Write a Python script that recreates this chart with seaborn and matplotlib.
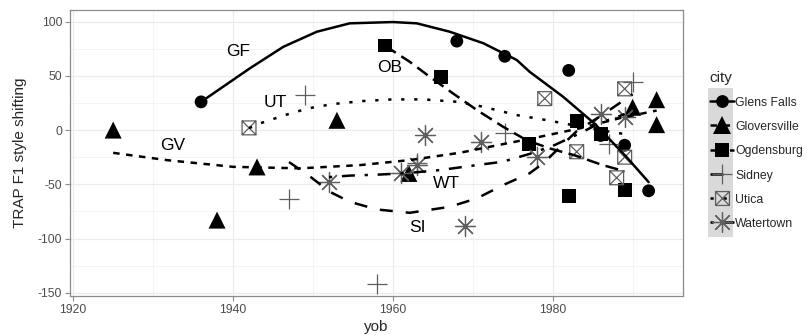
import numpy as np
import pandas as pd
import seaborn as sns
import matplotlib
matplotlib.use("Agg")
import matplotlib.pyplot as plt
from matplotlib.path import Path
from matplotlib.lines import Line2D
from matplotlib.patches import Rectangle

# ---------------- data ----------------
cities = ["Glens Falls", "Gloversville", "Ogdensburg", "Sidney", "Utica", "Watertown"]
abbrevs = ["GF", "GV", "OB", "SI", "UT", "WT"]

# observed points
gf_yob = [1936, 1968, 1974, 1982, 1986, 1989, 1992]
gf_val = [26, 82, 68, 55, -5, -14, -56]

gv_yob = [1925, 1938, 1943, 1953, 1962, 1990, 1993, 1993]
gv_val = [0, -83, -34, 9, -40, 21, 28, 5]

ob_yob = [1959, 1966, 1977, 1982, 1983, 1986, 1989]
ob_val = [78, 49, -13, -61, 8, -4, -55]

si_yob = [1947, 1949, 1958, 1963, 1974, 1987, 1990]
si_val = [-64, 32, -142, -30, -3, -13, 44]

ut_yob = [1942, 1979, 1983, 1988, 1989, 1989]
ut_val = [2, 29, -20, -44, 38, -25]

wt_yob = [1952, 1961, 1963, 1964, 1969, 1971, 1978, 1986, 1989]
wt_val = [-48, -40, -32, -5, -88, -11, -25, 15, 12]

# smoothed trend lines
gf_fit_yob = [1936, 1942.1, 1946.3, 1950.5, 1954.6, 1960, 1963, 1967.1, 1971.3,
              1975.5, 1977.1, 1981.3, 1985.3, 1989.2, 1992]
gf_fit_val = [26, 56.9, 76.8, 90.7, 98.4, 99.6, 98.4, 90.7, 80.1,
              64.6, 53.8, 30.7, 5.5, -24.6, -48]

gv_fit_yob = [1925, 1931.7, 1940, 1948.4, 1955.9, 1962.1, 1968.4, 1974.25,
              1978.4, 1983.4, 1988.4, 1993]
gv_fit_val = [-21, -27.7, -33.9, -35.3, -32.3, -27.7, -20.9, -12.3,
              -6.2, 1.6, 11, 18]

ob_fit_yob = [1959, 1962.1, 1964.6, 1967.5, 1970.5, 1973.8, 1976.7, 1979.6,
              1982.75, 1986.25, 1989]
ob_fit_val = [77.8, 63, 49.2, 33.9, 18.5, 3, -9.2, -16.9,
              -23.3, -32.3, -38]

si_fit_yob = [1947, 1949.4, 1952.1, 1954.6, 1958, 1962.1, 1967.1, 1970.5,
              1973.8, 1977.1, 1978.8, 1983, 1986, 1990]
si_fit_val = [-29.5, -41.5, -56.9, -66.1, -73.2, -76.3, -70.8, -63,
              -50.7, -39.9, -30.7, -1, 13, 33]

ut_fit_yob = [1942, 1943.6, 1946.5, 1949.4, 1952.5, 1956.3, 1960, 1963.8,
              1968, 1971.3, 1975.5, 1979.2, 1982.5, 1985.9, 1989]
ut_fit_val = [1.8, 6.7, 13.8, 20, 24, 26.8, 28.3, 28.3,
              26.1, 21.5, 13.8, 9.2, 4.6, 0, -3.7]

wt_fit_yob = [1952, 1954.6, 1958.4, 1961.75, 1965.9, 1970.5, 1973.75, 1977.1,
              1980.25, 1983.4, 1985.9, 1988.4, 1989]
wt_fit_val = [-43.4, -42, -41, -39.7, -36.9, -32.3, -29.2, -22,
              -13.8, -3, 6.5, 13, 14.8]

label_yob = [1940.6, 1932.5, 1959.6, 1963.1, 1945.3, 1966.7]
label_val = [72, -14.5, 57.5, -90, 25, -49]

x_ticks = [1920, 1940, 1960, 1980]
y_ticks = [-150, -100, -50, 0, 50, 100]

yobs = [gf_yob, gv_yob, ob_yob, si_yob, ut_yob, wt_yob]
vals = [gf_val, gv_val, ob_val, si_val, ut_val, wt_val]
fit_yobs = [gf_fit_yob, gv_fit_yob, ob_fit_yob, si_fit_yob, ut_fit_yob, wt_fit_yob]
fit_vals = [gf_fit_val, gv_fit_val, ob_fit_val, si_fit_val, ut_fit_val, wt_fit_val]

df = pd.concat([pd.DataFrame({"city": c, "yob": x, "val": v})
                for c, x, v in zip(cities, yobs, vals)], ignore_index=True)
fit_df = pd.concat([pd.DataFrame({"city": c, "yob": x, "val": v})
                    for c, x, v in zip(cities, fit_yobs, fit_vals)], ignore_index=True)

# ---------------- styling ----------------
sns.set_theme(style="white")
plt.rcParams["font.family"] = ["Liberation Sans", "DejaVu Sans"]
plt.rcParams["axes.unicode_minus"] = False

# boxed-X marker
box_x = Path([(-1, -1), (1, -1), (1, 1), (-1, 1), (-1, -1),
              (-1, -1), (1, 1), (-1, 1), (1, -1)],
             [Path.MOVETO, Path.LINETO, Path.LINETO, Path.LINETO, Path.CLOSEPOLY,
              Path.MOVETO, Path.LINETO, Path.MOVETO, Path.LINETO])

u = 1.3
line_styles = ["solid", (0, (2 * u, 2 * u)), (0, (4 * u, 2 * u)), (0, (4 * u, 4 * u)),
               (0, (1 * u, 3 * u)), (0, (1 * u, 3 * u, 4 * u, 3 * u))]
gray = "#5e5e5e"
marker_specs = [
    dict(marker="o", s=85, color="black", edgecolor="none"),
    dict(marker="^", s=150, color="black", edgecolor="none"),
    dict(marker="s", s=100, color="black", edgecolor="none"),
    dict(marker="+", s=210, color=gray, linewidths=0.9),
    dict(marker=box_x, s=100, facecolor="none", edgecolor=gray, linewidths=0.9),
    dict(marker=(8, 2, 0), s=210, color=gray, linewidths=0.9),
]

fig = plt.figure(figsize=(8.07, 3.35), dpi=100)
W, H = 807, 335
px_l, px_r, px_t, px_b = 70, 683, 10, 296
ax = fig.add_axes([px_l / W, 1 - px_b / H, (px_r - px_l) / W, (px_b - px_t) / H])

ax.set_xlim(1919.6, 1996.3)
ax.set_ylim(-153, 110.7)
ax.set_xticks(x_ticks)
ax.set_yticks(y_ticks)
ax.set_xticks([1930, 1950, 1970, 1990], minor=True)
ax.set_yticks([-125, -75, -25, 25, 75], minor=True)
ax.grid(True, which="major", color="#EBEBEB", lw=0.9)
ax.grid(True, which="minor", color="#F0F0F0", lw=0.5)
ax.set_axisbelow(True)
for sp in ax.spines.values():
    sp.set_color("#8c8c8c")
    sp.set_linewidth(0.9)
ax.tick_params(which="major", length=3.5, width=0.8, color="#8c8c8c",
               labelcolor="#4d4d4d", labelsize=8.8, pad=2, bottom=True, left=True)
ax.tick_params(which="minor", length=0)

for i, c in enumerate(cities):
    sub = df[df.city == c]
    sns.scatterplot(data=sub, x="yob", y="val", ax=ax, legend=False,
                    zorder=3, **marker_specs[i])
    fsub = fit_df[fit_df.city == c]
    sns.lineplot(data=fsub, x="yob", y="val", ax=ax, color="black", lw=1.8,
                 linestyle=line_styles[i], legend=False, zorder=4, sort=False,
                 estimator=None)

for ab, lx, ly in zip(abbrevs, label_yob, label_val):
    ax.text(lx, ly, ab, ha="center", va="center", fontsize=12.5, color="black", zorder=5)

ax.set_xlabel("yob", fontsize=11)
ax.set_ylabel("TRAP F1 style shifting", fontsize=11)
ax.xaxis.set_label_coords(0.5, (px_b - 327) / (px_b - px_t))
ax.xaxis.label.set_va("center")
ax.yaxis.set_label_coords((20 - px_l) / (px_r - px_l), 0.5)
ax.yaxis.label.set_va("center")

# legend
handles = []
for i, c in enumerate(cities):
    m = marker_specs[i]
    mk = m["marker"]
    ms = np.sqrt(m["s"])
    if i < 3:
        h = Line2D([], [], color="black", lw=1.8, linestyle=line_styles[i],
                   marker=mk, markersize=ms,
                   markerfacecolor="black", markeredgecolor="black", markeredgewidth=0)
    elif i == 4:
        h = Line2D([], [], color="black", lw=1.8, linestyle=line_styles[i],
                   marker=mk, markersize=ms,
                   markerfacecolor="none", markeredgecolor=gray, markeredgewidth=0.9)
    else:
        h = Line2D([], [], color="black", lw=1.8, linestyle=line_styles[i],
                   marker=mk, markersize=ms,
                   markeredgecolor=gray, markeredgewidth=0.9)
    handles.append(h)

fig.add_artist(Rectangle((708 / W, 1 - 237 / H), 25 / W, (237 - 88) / H,
                         transform=fig.transFigure, facecolor="#d9d9d9",
                         edgecolor="none", zorder=0))
leg = fig.legend(handles, cities, title="city", loc="upper left",
                 bbox_to_anchor=(701 / W, 1 - 62 / H), frameon=False,
                 fontsize=8.8, title_fontsize=11, handlelength=2.0,
                 handleheight=1.0, labelspacing=0.95, handletextpad=0.1,
                 borderpad=0.2, alignment="left")

fig.savefig("out.png", dpi=100)
